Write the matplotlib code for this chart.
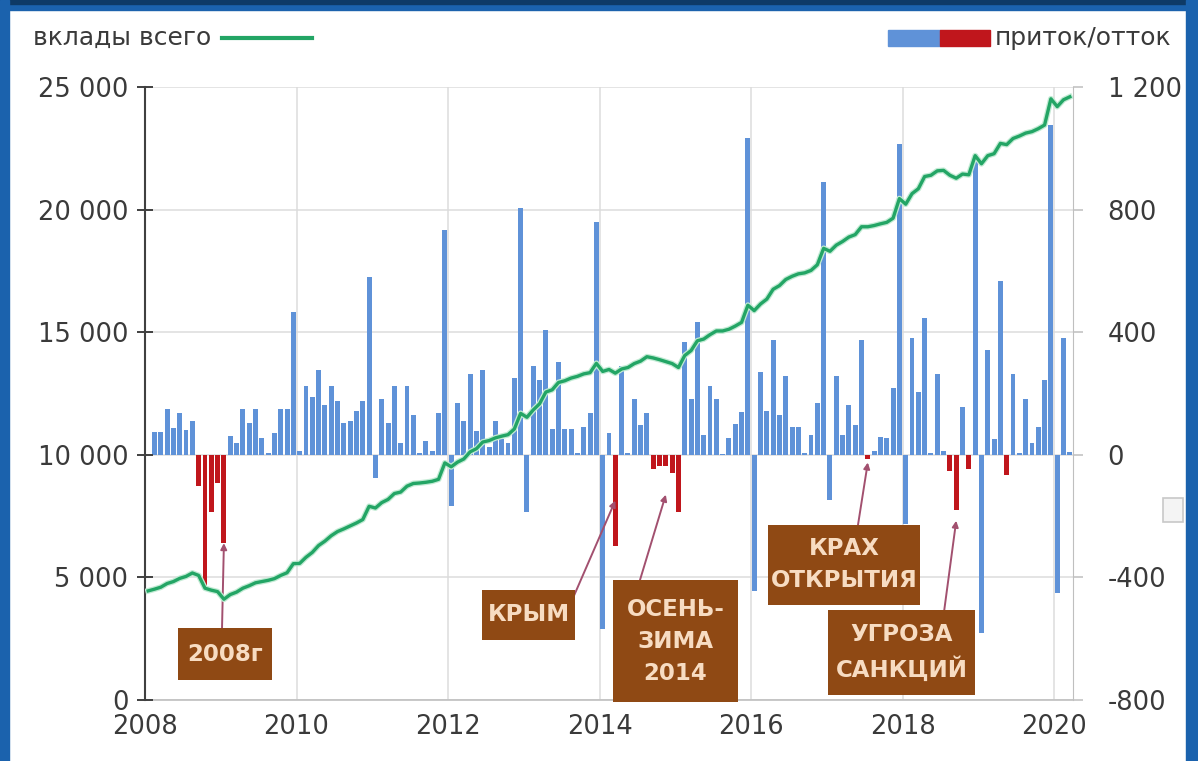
import matplotlib
matplotlib.use('Agg')
import matplotlib.pyplot as plt
import numpy as np
from matplotlib.patches import Rectangle
from matplotlib.ticker import FuncFormatter
import matplotlib.patheffects as pe

plt.rcParams['font.family'] = ['DejaVu Sans']
plt.rcParams['axes.unicode_minus'] = False

# ---------------- data (monthly, Jan 2008 .. Mar 2020) ----------------
year_ticks = [2008, 2010, 2012, 2014, 2016, 2018, 2020]

# monthly inflow / outflow (right axis)
flow_2008 = [0, 76, 76, 150, 88, 136, 82, 110, -103, -440, -185, -92]
flow_2009 = [-288, 60, 38, 150, 105, 148, 54, 5, 71, 148, 148, 465]
flow_2010 = [12, 226, 187, 277, 161, 226, 174, 103, 110, 142, 174, 580]
flow_2011 = [-77, 181, 103, 226, 39, 226, 129, 5, 45, 13, 135, 735]
flow_2012 = [-168, 168, 110, 265, 77, 277, 26, 110, 52, 39, 252, 806]
flow_2013 = [-187, 290, 245, 406, 84, 303, 84, 84, 5, 90, 135, 761]
flow_2014 = [-568, 71, -299, 290, 5, 181, 97, 135, -45, -35, -38, -60]
flow_2015 = [-185, 368, 181, 432, 65, 226, 181, 3, 55, 100, 140, 1032]
flow_2016 = [-445, 271, 142, 374, 129, 258, 90, 90, 5, 65, 168, 890]
flow_2017 = [-148, 258, 65, 161, 97, 374, -15, 13, 58, 55, 219, 1013]
flow_2018 = [-226, 381, 206, 445, 5, 265, 13, -52, -181, 155, -45, 980]
flow_2019 = [-581, 342, 52, 568, -65, 265, 5, 181, 39, 90, 245, 1077]
flow_2020 = [-452, 381, 10]

# total deposits (left axis)
dep_2008 = [4450, 4520, 4600, 4750, 4830, 4960, 5040, 5180, 5080, 4560, 4480, 4420]
dep_2009 = [4110, 4300, 4400, 4560, 4660, 4780, 4830, 4880, 4950, 5080, 5190, 5560]
dep_2010 = [5570, 5820, 6020, 6300, 6480, 6700, 6870, 6980, 7100, 7220, 7360, 7900]
dep_2011 = [7830, 8050, 8180, 8420, 8480, 8720, 8830, 8850, 8880, 8920, 9000, 9670]
dep_2012 = [9510, 9700, 9830, 10120, 10250, 10520, 10580, 10690, 10760, 10820, 11050, 11690]
dep_2013 = [11530, 11830, 12080, 12560, 12650, 12950, 13020, 13130, 13200, 13300, 13350, 13730]
dep_2014 = [13400, 13480, 13330, 13500, 13560, 13720, 13820, 14000, 13950, 13880, 13800, 13720]
dep_2015 = [13560, 14050, 14250, 14650, 14720, 14900, 15050, 15050, 15120, 15250, 15400, 16100]
dep_2016 = [15880, 16150, 16350, 16750, 16900, 17150, 17280, 17380, 17420, 17520, 17750, 18420]
dep_2017 = [18300, 18550, 18700, 18880, 18980, 19300, 19300, 19350, 19420, 19480, 19650, 20450]
dep_2018 = [20220, 20650, 20850, 21350, 21400, 21580, 21600, 21400, 21280, 21450, 21420, 22200]
dep_2019 = [21870, 22200, 22280, 22700, 22650, 22900, 23000, 23120, 23180, 23300, 23450, 24520]
dep_2020 = [24200, 24480, 24600]

# months shown in red (crisis outflows)
red_months = ['2008-09', '2008-10', '2008-11', '2008-12', '2009-01',
              '2014-03', '2014-09', '2014-10', '2014-11', '2014-12', '2015-01',
              '2017-07', '2018-08', '2018-09', '2018-11', '2019-05']

flows = (flow_2008 + flow_2009 + flow_2010 + flow_2011 + flow_2012 + flow_2013 +
         flow_2014 + flow_2015 + flow_2016 + flow_2017 + flow_2018 + flow_2019 + flow_2020)
deposits = (dep_2008 + dep_2009 + dep_2010 + dep_2011 + dep_2012 + dep_2013 +
            dep_2014 + dep_2015 + dep_2016 + dep_2017 + dep_2018 + dep_2019 + dep_2020)
month_keys = [f'{y}-{m:02d}' for y in range(2008, 2021) for m in range(1, 13)][:len(flows)]
idx = {k: i for i, k in enumerate(month_keys)}

# ---------------- figure ----------------
W, H = 1198, 761
fig = plt.figure(figsize=(W / 100, H / 100), dpi=100)
fig.patch.set_facecolor('white')

# blue frame
fig.patches.append(Rectangle((0, 1 - 10 / H), 1, 10 / H, transform=fig.transFigure,
                             color='#1B62AD', zorder=0))
fig.patches.append(Rectangle((0, 1 - 4 / H), 1, 4 / H, transform=fig.transFigure,
                             color='#0E3A66', zorder=0))
fig.patches.append(Rectangle((0, 0), 9 / W, 1, transform=fig.transFigure,
                             color='#1B62AD', zorder=0))
fig.patches.append(Rectangle((1 - 12 / W, 0), 12 / W, 1, transform=fig.transFigure,
                             color='#1B62AD', zorder=0))
# faint paste-options icon at right edge
fig.patches.append(Rectangle((1163 / W, 1 - 522 / H), 20 / W, 24 / H, transform=fig.transFigure,
                             facecolor='#F4F4F4', edgecolor='#C8C8C8', lw=1.2, zorder=0))

left, right, top, bottom = 145, 1073, 87, 700
ax = fig.add_axes([left / W, 1 - bottom / H, (right - left) / W, (bottom - top) / H])
axl = ax.twinx()
axl.yaxis.tick_left()
axl.yaxis.set_label_position('left')
ax.yaxis.tick_right()
ax.yaxis.set_label_position('right')

x = np.arange(len(flows)) + 0.5
blue = '#5F92D8'
red = '#C0161C'
colors = [red if k in red_months else blue for k in month_keys]
ax.bar(x, flows, width=0.78, color=colors, zorder=2, linewidth=0)

ax.set_xlim(0, len(flows))
ax.set_ylim(-800, 1200)
axl.set_ylim(0, 25000)

ax.set_axisbelow(True)
ax.set_yticks([-800, -400, 0, 400, 800, 1200])
axl.set_yticks([0, 5000, 10000, 15000, 20000, 25000])
xt = [idx[f'{y}-01'] for y in year_ticks]
ax.set_xticks(xt)
ax.set_xticklabels([str(y) for y in year_ticks])
ax.grid(True, color='#DCDCDC', linewidth=1.1)

def space_fmt(v, pos):
    s = f'{abs(int(round(v))):,}'.replace(',', ' ')
    return ('-' if v < 0 else '') + s

ax.yaxis.set_major_formatter(FuncFormatter(space_fmt))
axl.yaxis.set_major_formatter(FuncFormatter(space_fmt))

label_color = '#3A3A3A'
ax.tick_params(axis='x', length=0, pad=10, labelsize=18.5, labelcolor=label_color)
ax.tick_params(axis='y', direction='out', length=7, width=1.1, color='#BFBFBF',
               pad=18, labelsize=18.5, labelcolor=label_color)
axl.tick_params(axis='y', direction='inout', length=12, width=1.4, color='#404040',
                pad=6, labelsize=18.5, labelcolor=label_color)

for s in ['top', 'left']:
    ax.spines[s].set_visible(False)
ax.spines['right'].set_color('#BFBFBF')
ax.spines['bottom'].set_color('#BFBFBF')
ax.spines['bottom'].set_linewidth(1.2)
for s in ['top', 'right', 'bottom']:
    axl.spines[s].set_visible(False)
axl.spines['left'].set_color('#404040')
axl.spines['left'].set_linewidth(1.5)

green = '#23A565'
axl.plot(x, deposits, color=green, lw=2.4, zorder=3,
         path_effects=[pe.Stroke(linewidth=4.2, foreground='#C2EBD4'), pe.Normal()])

# ---------------- annotations ----------------
box_color = '#8F4914'
text_color = '#F7DCC2'
arrow_color = '#A2506F'
boxes = [
    # text, (x0, y0, w, h) axes fraction, arrow start (axes frac), target month, target value
    ('2008г', (0.0356, 0.0326, 0.1013, 0.0848), (0.083, 0.1175), '2009-01', flows[idx['2009-01']]),
    ('КРЫМ', (0.3631, 0.0979, 0.1002, 0.0816), (0.4612, 0.1664), '2014-03', flows[idx['2014-03']] * 0.5),
    ('ОСЕНЬ-\nЗИМА\n2014', (0.5043, -0.0033, 0.1347, 0.199), (0.5334, 0.1958), '2014-11', -130),
    ('КРАХ\nОТКРЫТИЯ', (0.6713, 0.155, 0.1638, 0.1305), (0.7683, 0.2855), '2017-07', -25),
    ('УГРОЗА\nСАНКЦИЙ', (0.736, 0.0082, 0.1584, 0.1387), (0.861, 0.1436), '2018-09', -215),
]
for text, (bx, by, bw, bh), start, mkey, tval in boxes:
    ax.annotate('', xy=(x[idx[mkey]], tval), xycoords='data',
                xytext=start, textcoords='axes fraction',
                arrowprops=dict(arrowstyle='-|>', color=arrow_color, lw=1.4,
                                mutation_scale=9, shrinkA=0, shrinkB=0),
                zorder=5, annotation_clip=False)
    ax.add_patch(Rectangle((bx, by), bw, bh, transform=ax.transAxes,
                           facecolor=box_color, edgecolor='none', zorder=6, clip_on=False))
    ax.text(bx + bw / 2, by + bh / 2, text, transform=ax.transAxes, ha='center', va='center',
            color=text_color, fontsize=16.5, fontweight='bold', linespacing=1.5,
            zorder=7, clip_on=False)

# ---------------- legend ----------------
fig.text(33 / W, 1 - 38 / H, 'вклады всего', ha='left', va='center',
         fontsize=18, color=label_color)
fig.add_artist(plt.Line2D([222 / W, 312 / W], [1 - 38 / H, 1 - 38 / H],
                          transform=fig.transFigure, color=green, lw=3.0))
fig.patches.append(Rectangle((888 / W, 1 - 46 / H), 52 / W, 16 / H,
                             transform=fig.transFigure, color=blue))
fig.patches.append(Rectangle((940 / W, 1 - 46 / H), 50 / W, 16 / H,
                             transform=fig.transFigure, color=red))
fig.text(995 / W, 1 - 38 / H, 'приток/отток', ha='left', va='center',
         fontsize=18, color=label_color)

fig.savefig('out.png', dpi=100)
